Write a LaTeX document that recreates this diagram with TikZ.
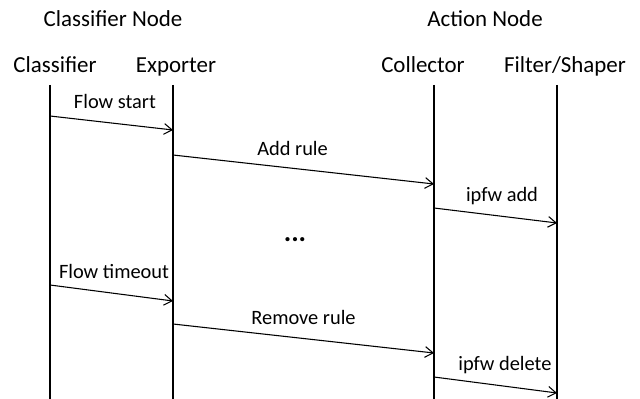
\documentclass[tikz,border=0pt]{standalone}
\usepackage{fontspec}
\setmainfont{Carlito}
\usetikzlibrary{arrows.meta,positioning}
\tikzset{
  base/.style={font=\fontsize{17.2}{20}\selectfont,inner sep=0pt},
  group/.style={base,anchor=base},
  head/.style={base,anchor=base},
  life/.style={line width=1.5pt},
  msg/.style={-{Straight Barb[length=6pt,width=8pt]},line width=0.8pt},
  lbl/.style={base,font=\fontsize{15.3}{18}\selectfont,anchor=base,yshift=10.5pt},
}
\begin{document}
\begin{tikzpicture}[x=0.75pt,y=-0.75pt]
\useasboundingbox (0,0) rectangle (640,399);
% node groups
\node[group] (clsnode) at (113,27) {Classifier Node};
\node[group] (actnode) at (485,27) {Action Node};
% participants
\node[head] (cls) at (55,73) {Classifier};
\node[head] (exp) at (176,73) {Exporter};
\node[head] (col) at (423,73) {Collector};
\node[head] (fil) at (565,73) {Filter/Shaper};
% lifelines
\coordinate (clstop) at (50,85);
\coordinate (clsbot) at (50,399);
\coordinate (exptop) at (173,85);
\coordinate (expbot) at (173,399);
\coordinate (coltop) at (434,85);
\coordinate (colbot) at (434,399);
\coordinate (filtop) at (557,85);
\coordinate (filbot) at (557,399);
\draw[life] (clstop) -- (clsbot);
\draw[life] (exptop) -- (expbot);
\draw[life] (coltop) -- (colbot);
\draw[life] (filtop) -- (filbot);
% messages
\coordinate (m1a) at (50,116);
\coordinate (m1b) at (173,130);
\coordinate (m2a) at (173,155);
\coordinate (m2b) at (434,184);
\coordinate (m3a) at (434,208);
\coordinate (m3b) at (557,223);
\coordinate (m4a) at (50,285);
\coordinate (m4b) at (173,301);
\coordinate (m5a) at (173,324);
\coordinate (m5b) at (434,353);
\coordinate (m6a) at (434,377);
\coordinate (m6b) at (557,393);
\draw[msg] (m1a) -- node[lbl,xshift=2.6pt] (l1) {Flow start} (m1b);
\draw[msg] (m2a) -- node[lbl,xshift=-8.2pt] (l2) {Add rule} (m2b);
\draw[msg] (m3a) -- node[lbl,xshift=4.9pt] (l3) {ipfw add} (m3b);
\draw[msg] (m4a) -- node[lbl,xshift=1.9pt] (l4) {Flow timeout} (m4b);
\draw[msg] (m5a) -- node[lbl] (l5) {Remove rule} (m5b);
\draw[msg] (m6a) -- node[lbl,xshift=7.1pt] (l6) {ipfw delete} (m6b);
% gap
\node[base,font=\fontsize{21}{24}\selectfont\bfseries] (gap) at (295,240) {...};
\end{tikzpicture}
\end{document}
